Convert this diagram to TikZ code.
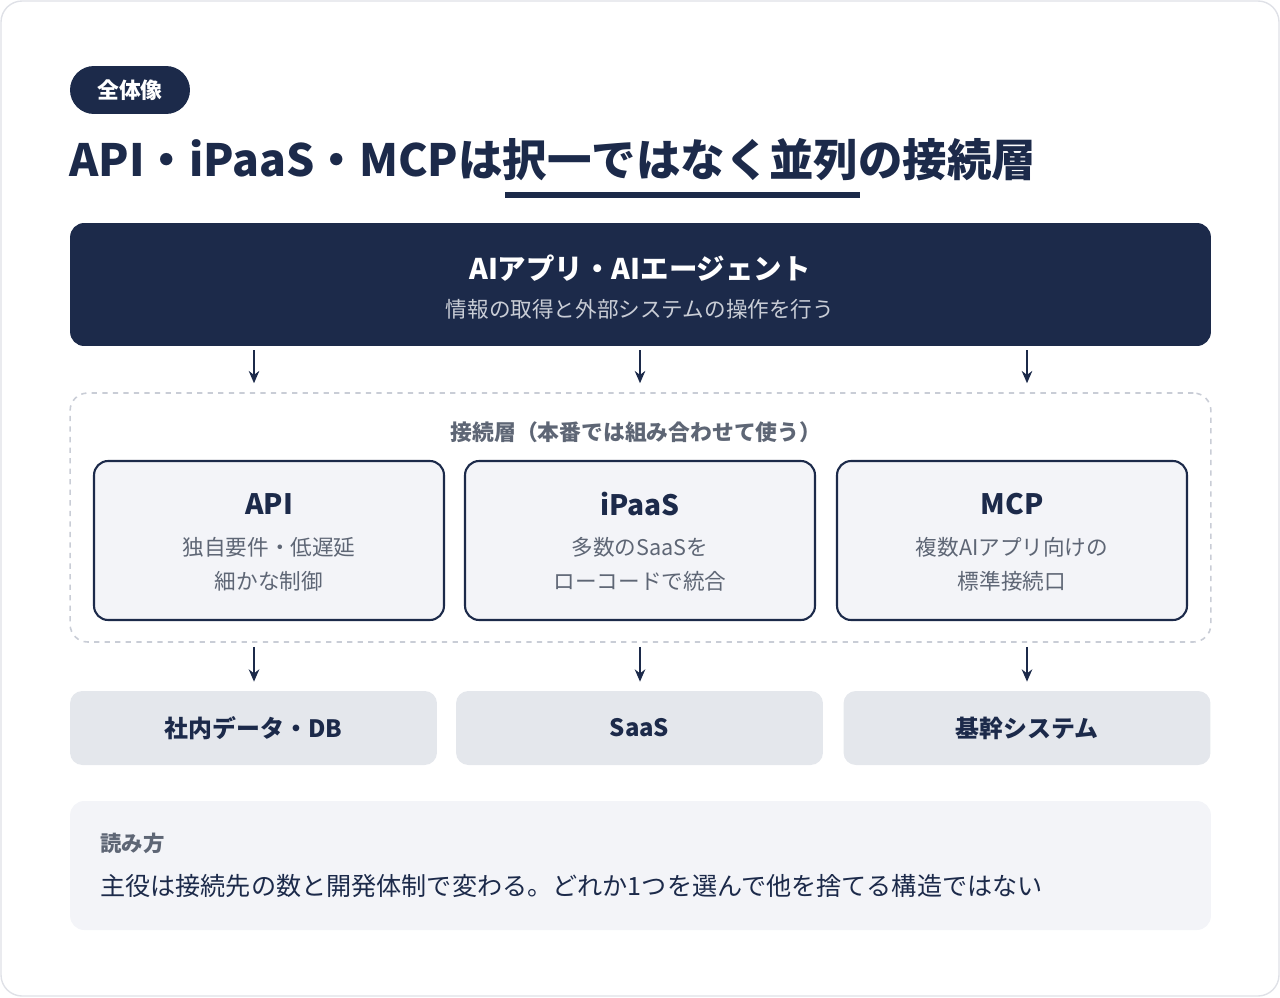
\documentclass[tikz,border=0pt]{standalone}
\usepackage{fontspec}
\setmainfont{Noto Sans CJK JP}
\usetikzlibrary{positioning,calc,arrows.meta}
\definecolor{navy}{HTML}{1C2A4A}
\definecolor{soft}{HTML}{F3F4F8}
\definecolor{tile}{HTML}{E4E7EC}
\definecolor{muted}{HTML}{5E6675}
\definecolor{edge}{HTML}{C9CDD6}
\tikzset{
  layer/.style={draw=navy,line width=1.2pt,fill=soft,rounded corners=8pt,minimum width=7cm,minimum height=3.18cm},
  target/.style={fill=tile,rounded corners=7pt,minimum width=7.34cm,minimum height=1.48cm,font=\fontsize{13.6}{16}\selectfont\bfseries,text=navy},
  arr/.style={-{Stealth[length=7pt,width=6pt]},line width=1pt,draw=navy,shorten <=0.08cm,shorten >=0.18cm},
  ttl/.style={font=\fontsize{16}{19}\selectfont\bfseries,text=navy},
  sub/.style={font=\fontsize{12.3}{19.2}\selectfont,text=muted,align=center}
}
\begin{document}
\begin{tikzpicture}[x=0.02cm,y=-0.02cm]
\useasboundingbox (0,0) rectangle (1280,997);
\draw[edge!60,line width=0.8pt,rounded corners=12pt] (1,1) rectangle (1279,996);
% header
\node[fill=navy,rounded corners=0.48cm,minimum width=2.4cm,minimum height=0.96cm,text=white,font=\fontsize{12.4}{14}\selectfont\bfseries] (tag) at (130,90) {全体像};
\node[anchor=west,inner sep=0,text=navy,font=\fontsize{25.3}{29}\selectfont\bfseries] (title) at (69,160) {API・iPaaS・MCPは択一ではなく並列の接続層};
\draw[navy,line width=3pt] (505,195) -- (860,195);
% app
\node[fill=navy,rounded corners=8pt,minimum width=22.82cm,minimum height=2.46cm] (app) at (640.5,284.5) {};
\node[text=white,font=\fontsize{16.2}{19}\selectfont\bfseries] (appt) at (640,268) {AIアプリ・AIエージェント};
\node[text=edge,font=\fontsize{12.3}{14}\selectfont] (apps) at (640,309) {情報の取得と外部システムの操作を行う};
% connection layer
\node[draw=edge,dashed,line width=0.9pt,rounded corners=10pt,minimum width=22.82cm,minimum height=4.98cm] (conn) at (640.5,517.5) {};
\node[text=muted,font=\fontsize{12.4}{14}\selectfont\bfseries] (connl) at (636,432) {接続層（本番では組み合わせて使う）};
\node[layer] (api) at (269,540.5) {};
\node[layer] (ipaas) at (640,540.5) {};
\node[layer] (mcp) at (1012,540.5) {};
\node[ttl] at (269,504) {API};
\node[sub] at (269,564) {独自要件・低遅延\\細かな制御};
\node[ttl] at (640,504) {iPaaS};
\node[sub] at (640,564) {多数のSaaSを\\ローコードで統合};
\node[ttl] at (1012,504) {MCP};
\node[sub] at (1012,564) {複数AIアプリ向けの\\標準接続口};
% targets
\node[target] (db) at (253.5,728) {社内データ・DB};
\node[target] (saas) at (639.5,728) {SaaS};
\node[target] (core) at (1027,728) {基幹システム};
\foreach \x/\t in {254/db,640/saas,1027/core}{
  \draw[arr] (app.south -| \x,0) -- (conn.north -| \x,0);
  \draw[arr] (conn.south -| \x,0) -- (\t.north -| \x,0);
}
% note
\node[fill=soft,rounded corners=8pt,minimum width=22.82cm,minimum height=2.58cm] (note) at (640.5,865.5) {};
\node[anchor=west,inner sep=0,text=muted,font=\fontsize{12.2}{14}\selectfont\bfseries] (notet) at (100,843) {読み方};
\node[anchor=west,inner sep=0,text=navy,font=\fontsize{14.3}{17}\selectfont] (noteb) at (100,886) {主役は接続先の数と開発体制で変わる。どれか1つを選んで他を捨てる構造ではない};
\end{tikzpicture}
\end{document}
